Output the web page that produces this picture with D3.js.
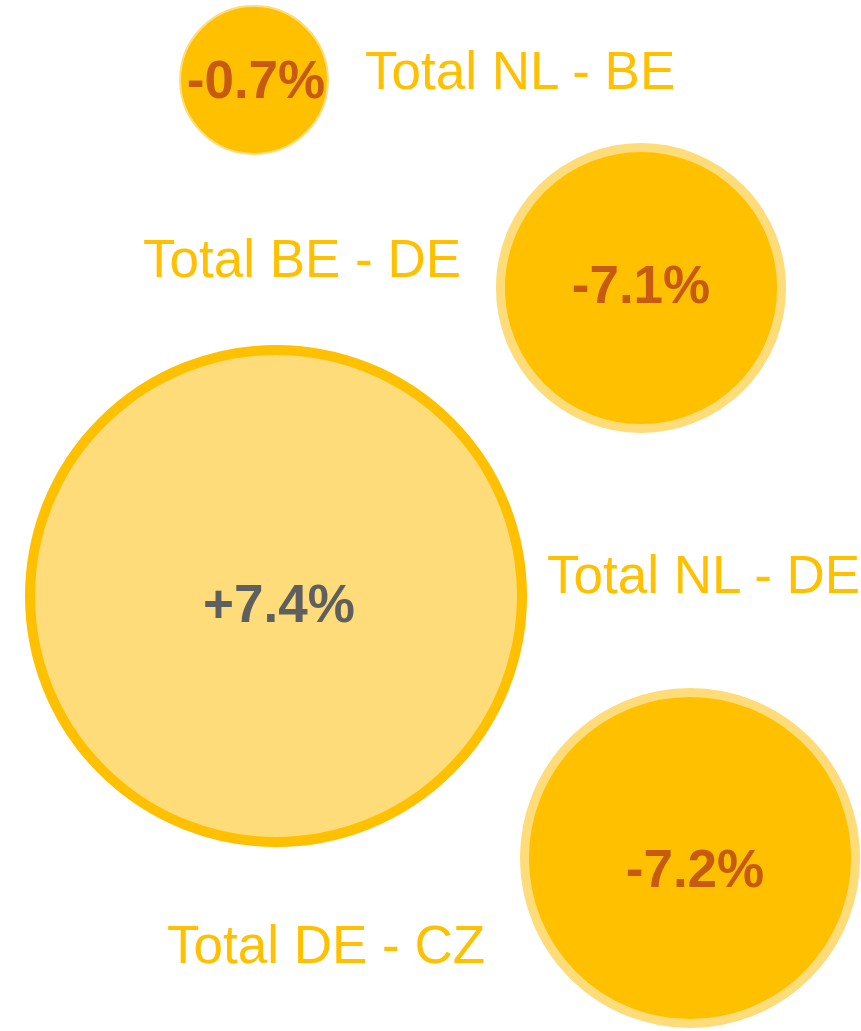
<!DOCTYPE html>
<html>
<head>
<meta charset="utf-8">
<script src="https://cdn.jsdelivr.net/npm/d3@7"></script>
<style>
  html, body { margin: 0; padding: 0; background: #fff; }
  svg { display: block; }
</style>
</head>
<body>
<svg></svg>
<script>
const width = 861;
const height = 1031;

// data
const routes = ['Total NL - BE', 'Total BE - DE', 'Total NL - DE', 'Total DE - CZ'];
const volumes = [8.9, 33.4, 100, 45.9];
const changes = [-0.7, -7.1, 7.4, -7.2];

// layout (bubble centres, value offsets, label anchors)
const centres = [[254, 80], [641, 288], [276, 596], [690, 858]];
const valueOffset = [[2, 18], [0, 15], [3, 26], [5, 29]];
const labelPos = [[365, 89], [143, 277], [547, 593], [167, 963]];

const dark = '#FFC000';
const light = '#FEDC7A';

const svg = d3.select('svg')
    .attr('width', width)
    .attr('height', height);

const rScale = d3.scaleSqrt().domain([0, d3.max(volumes)]).range([0, 251]);

const data = routes.map((name, i) => ({
    name: name,
    volume: volumes[i],
    change: changes[i],
    cx: centres[i][0],
    cy: centres[i][1],
    dx: valueOffset[i][0],
    dy: valueOffset[i][1],
    lx: labelPos[i][0],
    ly: labelPos[i][1]
}));

const strokeW = d => d.volume < 20 ? 2 : (d.change > 0 ? 10 : 9);

const bubble = svg.selectAll('g.bubble')
    .data(data)
    .enter().append('g')
    .attr('class', 'bubble');

bubble.append('circle')
    .attr('cx', d => d.cx)
    .attr('cy', d => d.cy)
    .attr('r', d => rScale(d.volume) - strokeW(d) / 2)
    .attr('fill', d => d.change > 0 ? light : dark)
    .attr('stroke', d => d.change > 0 ? dark : light)
    .attr('stroke-width', strokeW);

bubble.append('text')
    .attr('x', d => d.cx + d.dx)
    .attr('y', d => d.cy + d.dy)
    .attr('text-anchor', 'middle')
    .attr('font-family', 'Liberation Sans, Arial, sans-serif')
    .attr('font-weight', 'bold')
    .attr('font-size', 53)
    .attr('fill', d => d.change > 0 ? '#5F5F5F' : '#C65A11')
    .text(d => (d.change > 0 ? '+' : '') + d.change.toFixed(1) + '%');

svg.selectAll('text.label')
    .data(data)
    .enter().append('text')
    .attr('class', 'label')
    .attr('x', d => d.lx)
    .attr('y', d => d.ly)
    .attr('font-family', 'Liberation Sans, Arial, sans-serif')
    .attr('font-size', 53)
    .attr('fill', dark)
    .text(d => d.name);
</script>
</body>
</html>
